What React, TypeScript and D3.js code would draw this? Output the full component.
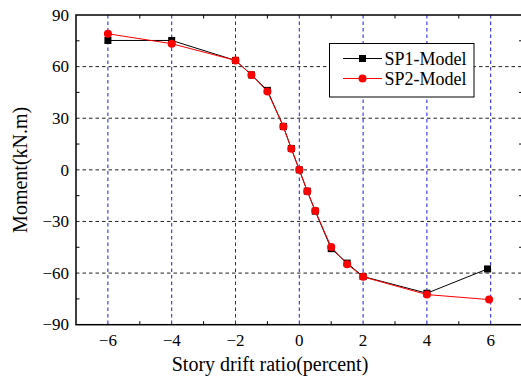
import { useEffect, useRef } from 'react';
import * as d3 from 'd3';

// story drift ratio (percent) for each model
const sp1Drift = [-6, -4, -2, -1.5, -1, -0.5, -0.25, 0, 0.25, 0.5, 1, 1.5, 2, 4, 5.9];
const sp1Moment = [75.2, 75.2, 63.6, 55.2, 46.2, 25.2, 12.4, 0, -12.4, -24, -45.8, -54.2, -62, -71.7, -57.6];

const sp2Drift = [-6, -4, -2, -1.5, -1, -0.5, -0.25, 0, 0.25, 0.5, 1, 1.5, 2, 4, 5.95];
const sp2Moment = [79.1, 73.3, 63.6, 55.2, 45.5, 25.2, 12.2, 0, -12.4, -23.8, -44.9, -54.8, -62.2, -72.5, -75.4];

const xTicks = [-6, -4, -2, 0, 2, 4, 6];
const xMinor = [-5, -3, -1, 1, 3, 5];
const yTicks = [-90, -60, -30, 0, 30, 60, 90];
const yMinor = [-75, -45, -15, 15, 45, 75];

const seriesNames = ['SP1-Model', 'SP2-Model'];

const FONT = '"Liberation Serif", "Times New Roman", serif';

export default function App() {
    const ref = useRef<SVGSVGElement>(null);

    useEffect(() => {
        const svg = d3.select(ref.current);
        svg.selectAll('*').remove();

        const left = 76, right = 522.6, top = 15, bottom = 324.7;

        const x = d3.scaleLinear().domain([-7, 7]).range([left, right]);
        const y = d3.scaleLinear().domain([-90, 90]).range([bottom, top]);

        // horizontal grid
        svg.append('g')
            .selectAll('line')
            .data(yTicks.filter(d => d > -90 && d < 90))
            .join('line')
            .attr('x1', left).attr('x2', right)
            .attr('y1', d => y(d)).attr('y2', d => y(d))
            .attr('stroke', '#222')
            .attr('stroke-width', 1)
            .attr('stroke-dasharray', '3.5,3');

        // vertical grid (blue)
        svg.append('g')
            .selectAll('line')
            .data(xTicks)
            .join('line')
            .attr('x1', d => x(d)).attr('x2', d => x(d))
            .attr('y1', top).attr('y2', bottom)
            .attr('stroke', '#1a1ae6')
            .attr('stroke-width', 1)
            .attr('stroke-dasharray', '3.5,3');

        // frame
        svg.append('rect')
            .attr('x', left).attr('y', top)
            .attr('width', right - left).attr('height', bottom - top)
            .attr('fill', 'none')
            .attr('stroke', '#000')
            .attr('stroke-width', 1.5);

        // minor ticks, pointing inward on all four sides
        const ticks = svg.append('g').attr('stroke', '#000').attr('stroke-width', 1);
        xMinor.forEach(d => {
            ticks.append('line').attr('x1', x(d)).attr('x2', x(d)).attr('y1', bottom).attr('y2', bottom - 3.5);
            ticks.append('line').attr('x1', x(d)).attr('x2', x(d)).attr('y1', top).attr('y2', top + 3.5);
        });
        yMinor.forEach(d => {
            ticks.append('line').attr('x1', left).attr('x2', left + 3.5).attr('y1', y(d)).attr('y2', y(d));
            ticks.append('line').attr('x1', right).attr('x2', right - 3.5).attr('y1', y(d)).attr('y2', y(d));
        });

        // tick labels
        const fmt = d3.format('d');
        svg.append('g')
            .selectAll('text')
            .data(xTicks)
            .join('text')
            .attr('x', d => x(d))
            .attr('y', bottom + 21)
            .attr('text-anchor', 'middle')
            .attr('font-family', FONT)
            .attr('font-size', 17)
            .text(d => fmt(d));

        svg.append('g')
            .selectAll('text')
            .data(yTicks)
            .join('text')
            .attr('x', left - 7)
            .attr('y', d => y(d))
            .attr('dy', '0.34em')
            .attr('text-anchor', 'end')
            .attr('font-family', FONT)
            .attr('font-size', 17)
            .text(d => fmt(d));

        // axis titles
        svg.append('text')
            .attr('x', 270)
            .attr('y', 371)
            .attr('text-anchor', 'middle')
            .attr('font-family', FONT)
            .attr('font-size', 20)
            .text('Story drift ratio(percent)');

        svg.append('text')
            .attr('transform', `translate(27,${(top + bottom) / 2}) rotate(-90)`)
            .attr('text-anchor', 'middle')
            .attr('font-family', FONT)
            .attr('font-size', 20)
            .text('Moment(kN.m)');

        const line = d3.line<[number, number]>()
            .x(d => x(d[0]))
            .y(d => y(d[1]));

        const sp1 = sp1Drift.map((d, i) => [d, sp1Moment[i]] as [number, number]);
        const sp2 = sp2Drift.map((d, i) => [d, sp2Moment[i]] as [number, number]);

        // SP1 - black squares
        svg.append('path')
            .datum(sp1)
            .attr('fill', 'none')
            .attr('stroke', '#000')
            .attr('stroke-width', 1)
            .attr('d', line);
        svg.append('g')
            .selectAll('rect')
            .data(sp1)
            .join('rect')
            .attr('x', d => x(d[0]) - 3.5)
            .attr('y', d => y(d[1]) - 3.5)
            .attr('width', 7).attr('height', 7)
            .attr('fill', '#000');

        // SP2 - red circles
        svg.append('path')
            .datum(sp2)
            .attr('fill', 'none')
            .attr('stroke', '#f00')
            .attr('stroke-width', 1)
            .attr('d', line);
        svg.append('g')
            .selectAll('circle')
            .data(sp2)
            .join('circle')
            .attr('cx', d => x(d[0]))
            .attr('cy', d => y(d[1]))
            .attr('r', 4)
            .attr('fill', '#f00');

        // legend
        const lg = svg.append('g');
        lg.append('rect')
            .attr('x', 329.5).attr('y', 43.5)
            .attr('width', 144.5).attr('height', 53.5)
            .attr('fill', '#fff')
            .attr('stroke', '#000')
            .attr('stroke-width', 1);
        const colors = ['#000', '#f00'];
        seriesNames.forEach((name, i) => {
            const ly = 58.5 + i * 20;
            lg.append('line')
                .attr('x1', 343).attr('x2', 382)
                .attr('y1', ly).attr('y2', ly)
                .attr('stroke', colors[i])
                .attr('stroke-width', 1);
            if (i === 0) {
                lg.append('rect')
                    .attr('x', 362.5 - 3.5).attr('y', ly - 3.5)
                    .attr('width', 7).attr('height', 7)
                    .attr('fill', colors[i]);
            } else {
                lg.append('circle')
                    .attr('cx', 362.5).attr('cy', ly)
                    .attr('r', 4)
                    .attr('fill', colors[i]);
            }
            lg.append('text')
                .attr('x', 384.5)
                .attr('y', ly)
                .attr('dy', '0.34em')
                .attr('font-family', FONT)
                .attr('font-size', 18)
                .text(name);
        });
    }, []);

    return (
        <svg
            ref={ref}
            width={521}
            height={378}
            style={{ position: 'absolute', left: 0, top: 0, background: '#fff' }}
        ></svg>
    );
}
